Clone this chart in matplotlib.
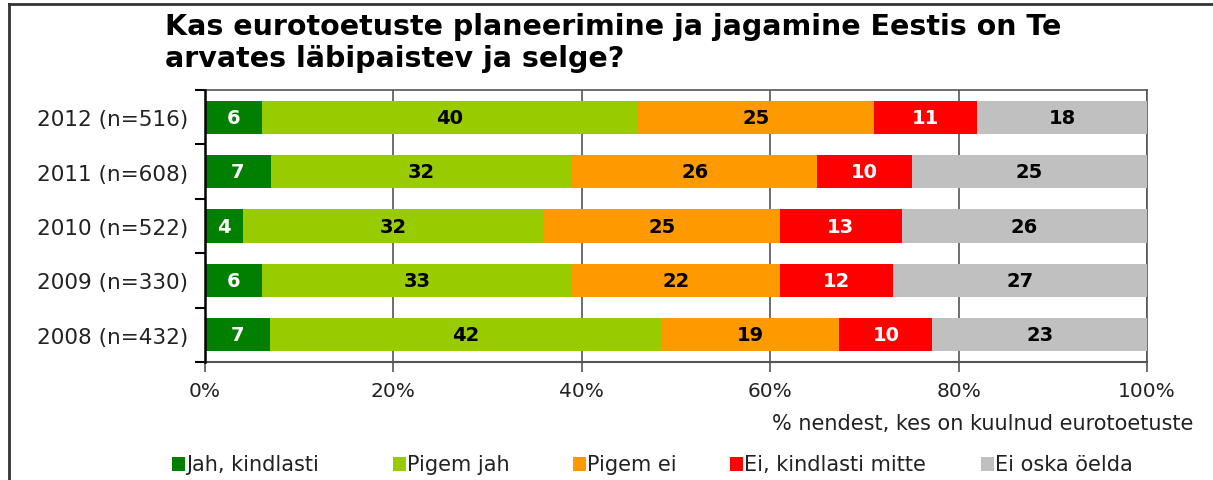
import numpy as np
from matplotlib import pyplot as plt
from matplotlib.patches import Rectangle
from matplotlib.lines import Line2D

years = ["2008 (n=432)", "2009 (n=330)", "2010 (n=522)", "2011 (n=608)", "2012 (n=516)"]
jah_kindlasti = [7, 6, 4, 7, 6]
pigem_jah = [42, 33, 32, 32, 40]
pigem_ei = [19, 22, 25, 26, 25]
ei_kindlasti = [10, 12, 13, 10, 11]
ei_oska = [23, 27, 26, 25, 18]

series_names = ["Jah, kindlasti", "Pigem jah", "Pigem ei", "Ei, kindlasti mitte", "Ei oska öelda"]
colors = ["#007F00", "#99CC00", "#FF9900", "#FF0000", "#C0C0C0"]
text_colors = ["white", "black", "black", "white", "black"]

data = np.array([jah_kindlasti, pigem_jah, pigem_ei, ei_kindlasti, ei_oska], dtype=float)
shares = data / data.sum(axis=0) * 100  # 100% stacked

W, H = 1213, 481
fig = plt.figure(figsize=(W / 100, H / 100), dpi=100)
ax = fig.add_axes([0.169, 0.2453, 0.7766, 0.5655])

y = np.arange(len(years))
left = np.zeros(len(years))
for k in range(5):
    ax.barh(y, shares[k], left=left, height=0.61, color=colors[k], zorder=3)
    for i in range(len(years)):
        ax.text(left[i] + shares[k][i] / 2, y[i], str(int(data[k][i])),
                ha="center", va="center", color=text_colors[k],
                fontsize=14, fontweight="bold", family="DejaVu Sans", zorder=4)
    left += shares[k]

ax.set_xlim(0, 100)
ax.set_ylim(-0.5, 4.5)
ax.set_xticks([0, 20, 40, 60, 80, 100])
ax.set_xticklabels(["0%", "20%", "40%", "60%", "80%", "100%"], fontsize=14.5, color="#222222")
ax.set_yticks(y)
ax.set_yticklabels(years, fontsize=15.5, color="#222222")
ax.set_yticks(np.arange(-0.5, 5, 1), minor=True)
ax.tick_params(axis="y", which="major", length=0, pad=12)
ax.tick_params(axis="y", which="minor", length=7, width=1.5, color="black")
ax.tick_params(axis="x", length=7, width=1.2, color="#555555", pad=7)
ax.grid(axis="x", color="#555555", linewidth=1.2, zorder=0)
for s in ["top", "right"]:
    ax.spines[s].set_color("#555555")
    ax.spines[s].set_linewidth(1.2)
ax.spines["bottom"].set_color("#555555")
ax.spines["bottom"].set_linewidth(1.5)
ax.spines["left"].set_color("black")
ax.spines["left"].set_linewidth(1.8)
ax.spines["left"].set_zorder(5)

fig.text(0.984, 0.118, "% nendest, kes on kuulnud eurotoetuste", ha="right", va="center",
         fontsize=15, color="#222222")

fig.text(0.136, 0.972, "Kas eurotoetuste planeerimine ja jagamine Eestis on Te\narvates läbipaistev ja selge?",
         ha="left", va="top", fontsize=20.5, fontweight="bold", family="DejaVu Sans",
         linespacing=1.18, color="black")

# legend, laid out like the original
leg_x = [172, 393, 573, 730, 981]
for name, c, lx in zip(series_names, colors, leg_x):
    fig.add_artist(Rectangle((lx / W, 0.0185), 13 / W, 14 / H, transform=fig.transFigure,
                             facecolor=c, edgecolor="none"))
    fig.text((lx + 14) / W, 0.033, name, ha="left", va="center", fontsize=15, color="#222222")

# outer border (top and left only)
fig.add_artist(Line2D([0.0074, 1.0], [0.989, 0.989], color="#333333", linewidth=2))
fig.add_artist(Line2D([0.0074, 0.0074], [0.0, 0.989], color="#333333", linewidth=2))

fig.savefig("out.png", dpi=100)
